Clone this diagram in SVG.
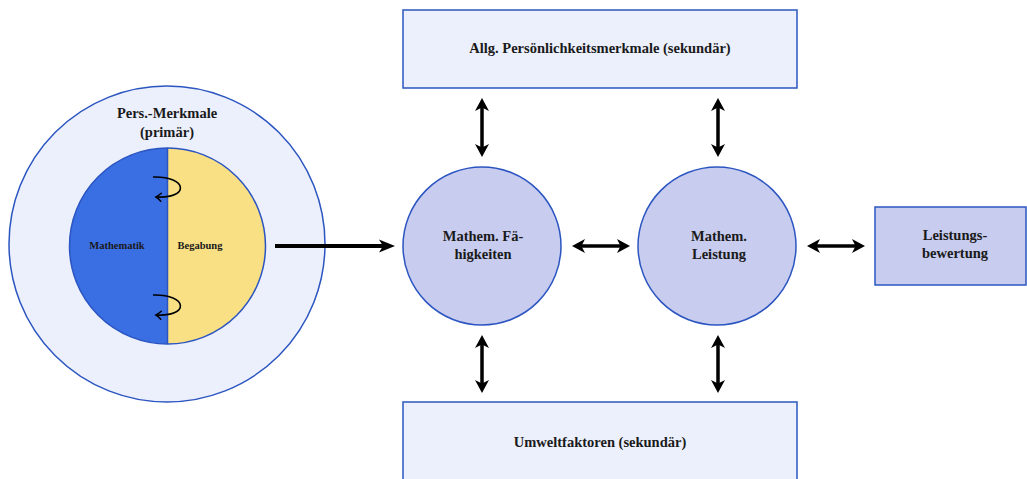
<svg xmlns="http://www.w3.org/2000/svg" width="1027" height="479" viewBox="0 0 1027 479">
  <defs>
    <style>
      text { font-family: "Liberation Serif", "DejaVu Serif", serif; font-weight: bold; fill: #1a1a1a; text-anchor: middle; }
      .lbl { font-size: 14.5px; }
      .small { font-size: 10.5px; }
      .pale { fill: #ECF0FC; stroke: #2B55C0; stroke-width: 1.5; }
      .mid { fill: #C8CCEF; stroke: #2B55C0; stroke-width: 1.5; }
      .link { stroke: #000; stroke-width: 3.5; fill: none; }
      .thick { stroke: #000; stroke-width: 4; fill: none; }
      .turn { stroke: #000; stroke-width: 1.6; fill: none; }
    </style>
    <marker id="head" viewBox="0 0 13 14" refX="5" refY="7" markerWidth="13" markerHeight="14" markerUnits="userSpaceOnUse" orient="auto-start-reverse">
      <path d="M0,0 L13,7 L0,14 L3.5,7 Z" fill="#000"/>
    </marker>
    <marker id="bighead" viewBox="0 0 16 14" refX="6" refY="7" markerWidth="16" markerHeight="14" markerUnits="userSpaceOnUse" orient="auto">
      <path d="M0,0.5 L16,7 L0,13.5 L4,7 Z" fill="#000"/>
    </marker>
    <marker id="tip" viewBox="-6 -5 8 10" refX="0" refY="0" markerWidth="8" markerHeight="10" markerUnits="userSpaceOnUse" orient="auto">
      <path d="M-5,-4 Q-2,-1 0,0 Q-2,1 -5,4" fill="none" stroke="#000" stroke-width="1.5" stroke-linecap="round"/>
    </marker>
  </defs>

  <!-- primary personal traits -->
  <g id="pers-merkmale">
    <circle class="pale" cx="167" cy="244" r="158"/>
    <text class="lbl" x="167" y="118">Pers.-Merkmale</text>
    <text class="lbl" x="167" y="137">(primär)</text>
  </g>

  <g id="kern">
    <path d="M167.5,148 A98,98 0 0 0 167.5,344 Z" fill="#3A6EE3"/>
    <path d="M167.5,148 A98,98 0 0 1 167.5,344 Z" fill="#F9E084"/>
    <circle cx="167.5" cy="246" r="98" fill="none" stroke="#2B55C0" stroke-width="1.5"/>
    <line x1="167.5" y1="148" x2="167.5" y2="344" stroke="#2B55C0" stroke-width="1.5"/>
    <text class="small" x="117" y="249">Mathematik</text>
    <text class="small" x="200" y="249">Begabung</text>
    <path class="turn" d="M153,177 C188,176 190,199 156,197" marker-end="url(#tip)"/>
    <path class="turn" d="M153,295 C188,294 190,317 156,315" marker-end="url(#tip)"/>
  </g>

  <g id="allg-merkmale">
    <rect class="pale" x="403" y="10" width="394" height="78"/>
    <text class="lbl" x="600" y="53">Allg. Persönlichkeitsmerkmale (sekundär)</text>
  </g>

  <g id="umwelt">
    <rect class="pale" x="403" y="402" width="394" height="90"/>
    <text class="lbl" x="600" y="447">Umweltfaktoren (sekundär)</text>
  </g>

  <g id="faehigkeiten">
    <circle class="mid" cx="482" cy="246" r="79"/>
    <text class="lbl" x="483" y="241">Mathem. Fä-</text>
    <text class="lbl" x="483" y="259">higkeiten</text>
  </g>

  <g id="leistung">
    <circle class="mid" cx="717" cy="246" r="79"/>
    <text class="lbl" x="719" y="241">Mathem.</text>
    <text class="lbl" x="719" y="259">Leistung</text>
  </g>

  <g id="bewertung">
    <rect class="mid" x="875" y="207" width="151" height="78"/>
    <text class="lbl" x="955" y="240">Leistungs-</text>
    <text class="lbl" x="955" y="258">bewertung</text>
  </g>

  <!-- connectors -->
  <g id="connectors">
    <line class="thick" x1="275" y1="246" x2="385" y2="246" marker-end="url(#bighead)"/>
    <line class="link" x1="580" y1="246" x2="622" y2="246" marker-start="url(#head)" marker-end="url(#head)"/>
    <line class="link" x1="815" y1="246" x2="857" y2="246" marker-start="url(#head)" marker-end="url(#head)"/>
    <line class="link" x1="482" y1="106" x2="482" y2="149" marker-start="url(#head)" marker-end="url(#head)"/>
    <line class="link" x1="718" y1="106" x2="718" y2="149" marker-start="url(#head)" marker-end="url(#head)"/>
    <line class="link" x1="482" y1="343" x2="482" y2="385" marker-start="url(#head)" marker-end="url(#head)"/>
    <line class="link" x1="718" y1="343" x2="718" y2="385" marker-start="url(#head)" marker-end="url(#head)"/>
  </g>
</svg>
